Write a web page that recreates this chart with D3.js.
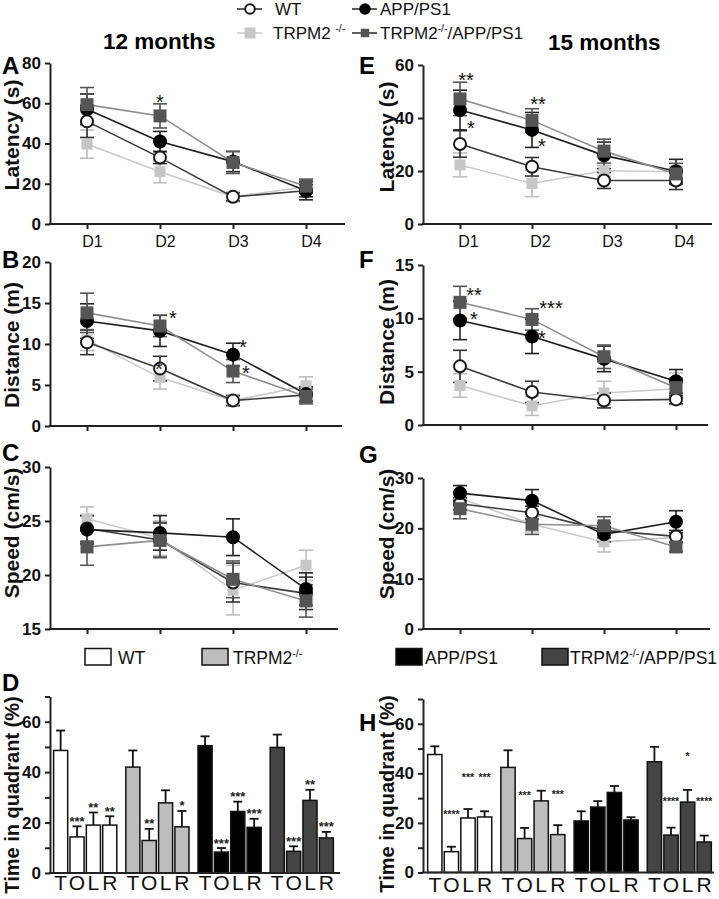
<!DOCTYPE html>
<html><head><meta charset="utf-8">
<script src="https://cdn.jsdelivr.net/npm/d3@7"></script>
<style>
body{margin:0;background:#fff}
svg{display:block}
text{font-family:"Liberation Sans",Arial,Helvetica,sans-serif}
</style>
</head><body>
<svg id="c" width="719" height="899"></svg>
<script>
// ---------------- DATA ----------------
const days = ["D1","D2","D3","D4"];
const genotypes = ["WT","TRPM2","APP","Double"];
const quadrants = ["T","O","L","R"];

// series order: WT, TRPM2-/-, APP/PS1, TRPM2-/-/APP/PS1
const latency12    = [[51,33,13.5,16.5],[39.7,26,13.5,18.5],[57,41,31,16.5],[59.3,53.7,30.6,18.8]];
const latency12Err = [[8,3,2,3],[7,5.5,2.5,3],[7.6,5,5,4.5],[8.5,6,5.5,3.5]];
const latency15    = [[30.2,21.6,16.4,16.4],[22.3,15.3,20.1,19.7],[43,35.5,25.9,19.9],[47.2,39.1,27.5,18.9]];
const latency15Err = [[5,3.5,3,3.4],[4.5,5,2,2],[7.5,6.6,5,4.5],[6.3,4.4,4.5,4]];
const distance12    = [[10.2,7.0,3.1,3.8],[10.5,5.9,3.1,4.9],[12.8,11.6,8.7,3.9],[13.8,12.2,6.7,3.6]];
const distance12Err = [[1.5,1.5,0.6,0.8],[1.3,1.4,0.7,1.1],[2.1,1.9,1.4,0.9],[2.4,1.3,1.4,0.9]];
const distance15    = [[5.5,3.1,2.3,2.4],[3.7,1.8,3.0,3.4],[9.8,8.3,6.2,4.1],[11.5,9.9,6.4,3.5]];
const distance15Err = [[1.5,1.0,0.7,0.4],[1.1,0.9,1.1,1.5],[1.8,1.6,1.2,1.1],[1.5,1.0,1.1,0.9]];
const speed12    = [[24.3,23.25,19.3,18.3],[25.2,23.4,18.6,20.9],[24.2,23.9,23.5,18.7],[22.6,23.2,19.6,17.6]];
const speed12Err = [[1.2,1.6,1.8,1.5],[1.1,1.6,2.3,1.4],[1.3,1.6,1.7,1.5],[1.7,1.6,1.7,1.5]];
const speed15    = [[24.9,23.1,19.6,18.4],[26,20.8,17.3,18.2],[27.0,25.5,18.8,21.3],[23.9,20.8,20.5,16.3]];
const speed15Err = [[1.2,1.3,1.5,1.2],[1.2,1.5,2.0,1.2],[1.5,2.2,1.5,2.2],[2.0,2.0,1.8,1.0]];

// significance marks on line panels (day, level in data units, text)
const latency12Stars  = [{day:"D2", level:63, text:"*"}];
const latency15Stars  = [{day:"D1", level:56.2, text:"**"},{day:"D1", level:38.1, text:"*"},{day:"D2", level:46.8, text:"**"},{day:"D2", level:31, text:"*"}];
const distance12Stars = [{day:"D2", level:13.7, text:"*"},{day:"D2", level:7.5, text:"*"},{day:"D3", level:10.2, text:"*"},{day:"D3", level:7.0, text:"*"}];
const distance15Stars = [{day:"D1", level:12.6, text:"**"},{day:"D1", level:10.4, text:"*"},{day:"D2", level:11.4, text:"***"},{day:"D2", level:8.6, text:"*"}];

// probe test: time in quadrant (%)
const quadrant12    = [[48.6,14.3,19.0,19.0],[42,12.9,27.8,18.3],[50.5,8.3,24.4,18.1],[49.8,8.6,28.8,13.9]];
const quadrant12Err = [[7.9,4.2,5.0,3.5],[6.6,4.6,5.0,6.3],[3.7,1.6,3.9,3.4],[5.1,2.0,4.2,2.4]];
const quadrant12Sig = [["","***","**","**"],["","**","","*"],["","***","***","***"],["","***","**","***"]];
const quadrant15    = [[47.6,8.4,22,22.4],[42.4,13.7,28.9,15.3],[20.8,26.4,32.3,21.2],[44.7,15.1,28.4,12.3]];
const quadrant15Err = [[3.3,2.0,3.6,2.3],[6.9,4.3,4.1,3.8],[3.9,2.4,2.6,1.1],[6.0,3.0,4.9,2.6]];
const quadrant15Sig = [["","****","***","***"],["","***","","***"],["","","",""],["","****","*","****"]];
const quadrant15SigLevel = [[null,24.5,39.5,39.5],[null,32.2,null,32.6],[null,null,null,null],[null,29.7,47.9,29.7]];

// ---------------- STYLE ----------------
const lineStyle = {
  WT:     {line:"#3c3c3c", shape:"circle", fill:"#fff",   stroke:"#1a1a1a", err:"#333", size:6},
  TRPM2:  {line:"#c9c9c9", shape:"square", fill:"#c6c6c6", stroke:"none",   err:"#bdbdbd", size:11},
  APP:    {line:"#1e1e1e", shape:"circle", fill:"#000",   stroke:"#000",    err:"#222", size:6},
  Double: {line:"#8e8e8e", shape:"square", fill:"#555",   stroke:"none",    err:"#555", size:13}
};
const barFill = {WT:"#ffffff", TRPM2:"#bdbdbd", APP:"#000000", Double:"#444444"};
const drawOrder = [1,0,2,3];

const svg = d3.select("#c");

function addMarker(g, st, cx, cy, scale){
  const s = scale || 1;
  if (st.shape === "circle") {
    g.append("circle").attr("cx",cx).attr("cy",cy).attr("r",st.size*s)
      .attr("fill",st.fill).attr("stroke",st.stroke).attr("stroke-width",2);
  } else {
    const w = st.size*s;
    g.append("rect").attr("x",cx-w/2).attr("y",cy-w/2).attr("width",w).attr("height",w)
      .attr("fill",st.fill).attr("stroke",st.stroke);
  }
}

function styleAxis(a, bold){
  a.selectAll("path,line").attr("stroke","#222").attr("stroke-width",2);
  a.selectAll("text").attr("fill","#111").attr("font-size",16)
    .attr("font-weight", bold ? "bold" : "normal").attr("font-family",'"Liberation Sans",Arial,sans-serif');
}

function yLabel(text, x, cy, fs){
  svg.append("text").attr("transform",`translate(${x},${cy}) rotate(-90)`)
    .attr("text-anchor","middle").attr("font-size",fs||21).attr("font-weight","bold").attr("fill","#111")
    .text(text);
}
function panelLetter(t, x, y){
  svg.append("text").attr("x",x).attr("y",y).attr("font-size",24).attr("font-weight","bold").attr("fill","#000").text(t);
}

function linePanel(cfg){
  const g = svg.append("g");
  const x = d3.scalePoint().domain(days).range(cfg.xr);
  const y = d3.scaleLinear().domain(cfg.dom).range(cfg.yr);
  const ya = g.append("g").attr("transform",`translate(${cfg.ax},0)`)
    .call(d3.axisLeft(y).tickValues(cfg.ticks).tickSize(5).tickSizeOuter(0).tickPadding(4).tickFormat(d3.format("d")));
  styleAxis(ya, true);
  ya.selectAll("text").attr("font-size",17);
  const xa = g.append("g").attr("transform",`translate(0,${cfg.yr[0]})`)
    .call(d3.axisBottom(x).tickSize(5).tickSizeOuter(0).tickPadding(7).tickFormat(cfg.labels ? (d=>d) : ""));
  xa.select(".domain").remove();
  styleAxis(xa, false);
  xa.selectAll("text").attr("dx", cfg.labelShift);
  g.append("line").attr("x1",cfg.ax-1).attr("x2",cfg.xEnd).attr("y1",cfg.yr[0]).attr("y2",cfg.yr[0])
    .attr("stroke","#222").attr("stroke-width",2);

  drawOrder.forEach(i=>{
    const st = lineStyle[genotypes[i]];
    const pts = cfg.values[i].map((v,j)=>[x(days[j]), y(v)]);
    g.append("path").attr("d", d3.line()(pts)).attr("fill","none").attr("stroke",st.line).attr("stroke-width",1.6);
  });
  drawOrder.forEach(i=>{
    const st = lineStyle[genotypes[i]];
    cfg.values[i].forEach((v,j)=>{
      const e = cfg.errs[i][j], cx = x(days[j]);
      const y1 = y(v+e), y2 = y(v-e);
      g.append("line").attr("x1",cx).attr("x2",cx).attr("y1",y1).attr("y2",y2).attr("stroke",st.err).attr("stroke-width",1.6);
      [y1,y2].forEach(yy=>g.append("line").attr("x1",cx-7).attr("x2",cx+7).attr("y1",yy).attr("y2",yy).attr("stroke",st.err).attr("stroke-width",1.6));
    });
  });
  drawOrder.forEach(i=>{
    const st = lineStyle[genotypes[i]];
    cfg.values[i].forEach((v,j)=> addMarker(g, st, x(days[j]), y(v)));
  });
  (cfg.stars||[]).forEach((s,k)=>{
    g.append("text").attr("x", x(s.day) + cfg.starShift[k]).attr("y", y(s.level) + 11.5)
      .attr("text-anchor","middle").attr("font-size",20).attr("fill","#111").text(s.text);
  });
}

function barPanel(cfg){
  const g = svg.append("g");
  const outer = d3.scaleBand().domain(genotypes).range(cfg.xr).paddingInner(0.125).paddingOuter(0.05);
  const inner = d3.scaleBand().domain(quadrants).range([0, outer.bandwidth()]).paddingInner(0.14);
  const y = d3.scaleLinear().domain([0,70]).range(cfg.yr);
  const ya = g.append("g").attr("transform",`translate(${cfg.ax},0)`)
    .call(d3.axisLeft(y).tickValues(d3.range(0,71,10)).tickSize(5).tickSizeOuter(0).tickPadding(4)
      .tickFormat(d=> d%20===0 ? d : ""));
  styleAxis(ya, true);
  ya.selectAll("text").attr("font-size",17);

  genotypes.forEach((gt,i)=>{
    quadrants.forEach((q,j)=>{
      const bx = outer(gt)+inner(q), bw = inner.bandwidth(), v = cfg.values[i][j], e = cfg.errs[i][j];
      const cx = bx + bw/2;
      g.append("line").attr("x1",cx).attr("x2",cx).attr("y1",y(v)).attr("y2",y(v+e)).attr("stroke","#111").attr("stroke-width",1.8);
      g.append("line").attr("x1",cx-4.5).attr("x2",cx+4.5).attr("y1",y(v+e)).attr("y2",y(v+e)).attr("stroke","#111").attr("stroke-width",1.8);
      g.append("rect").attr("x",bx).attr("y",y(v)).attr("width",bw).attr("height",y(0)-y(v))
        .attr("fill",barFill[gt]).attr("stroke","#111").attr("stroke-width",1.5);
      g.append("text").attr("x",cx).attr("y",cfg.labelY).attr("text-anchor","middle").attr("font-size",21)
        .attr("fill","#111").text(q);
      const s = cfg.sig[i][j];
      if (s) {
        const yy = cfg.sigLevel ? y(cfg.sigLevel[i][j]) + 6 : y(v+e) - 0.5;
        g.append("text").attr("x",cx).attr("y",yy).attr("text-anchor","middle")
          .attr("font-size",cfg.sigSize).attr("font-weight","bold").attr("fill","#222").text(s);
      }
    });
  });
  g.append("line").attr("x1",cfg.ax-1).attr("x2",cfg.xEnd).attr("y1",cfg.yr[0]).attr("y2",cfg.yr[0])
    .attr("stroke","#222").attr("stroke-width",2.2);
}

// ---------------- TITLES & LEGENDS ----------------
svg.append("text").attr("x",103).attr("y",49).attr("font-size",22.5).attr("font-weight","bold").text("12 months");
svg.append("text").attr("x",548).attr("y",50).attr("font-size",22.5).attr("font-weight","bold").text("15 months");

const topLegendPos = [[237,9,275,15],[237,33,273,39],[352,9,380,15],[352,33,380,39]];
const legendNames = [["WT",null,""],["TRPM2 ","-/-",""],["APP/PS1",null,""],["TRPM2","-/-","/APP/PS1"]];
genotypes.forEach((gt,i)=>{
  const [lx,ly,tx,ty] = topLegendPos[i];
  const st = lineStyle[gt];
  svg.append("line").attr("x1",lx).attr("x2",lx+25).attr("y1",ly).attr("y2",ly).attr("stroke",gt==="TRPM2" ? "#cfcfcf" : "#333").attr("stroke-width",1.6);
  addMarker(svg, st, lx+13, ly, st.shape==="circle" ? 0.8 : (gt==="Double" ? 0.65 : 1));
  const t = svg.append("text").attr("x",tx).attr("y",ty).attr("font-size",17).attr("fill","#111");
  t.append("tspan").text(legendNames[i][0]);
  if (legendNames[i][1]) t.append("tspan").attr("dy",-7).attr("font-size",10.5).text(legendNames[i][1]);
  if (legendNames[i][2]) t.append("tspan").attr("dy",7).text(legendNames[i][2]);
});

const barLegendPos = [[85,118],[202,233],[396,425],[542,570]];
const barLegendNames = [["WT",null,""],["TRPM2","-/-",""],["APP/PS1",null,""],["TRPM2","-/-","/APP/PS1"]];
genotypes.forEach((gt,i)=>{
  const [rx,tx] = barLegendPos[i];
  svg.append("rect").attr("x",rx).attr("y",648.5).attr("width",26).attr("height",16.5)
    .attr("fill",barFill[gt]).attr("stroke","#111").attr("stroke-width",1.5);
  const t = svg.append("text").attr("x",tx).attr("y",664).attr("font-size",17.5).attr("fill","#111");
  t.append("tspan").text(barLegendNames[i][0]);
  if (barLegendNames[i][1]) t.append("tspan").attr("dy",-7).attr("font-size",10.5).text(barLegendNames[i][1]);
  if (barLegendNames[i][2]) t.append("tspan").attr("dy",7).text(barLegendNames[i][2]);
});

// ---------------- PANELS ----------------
const L = {ax:50, xEnd:345, xr:[87,306]};
const R = {ax:423, xEnd:712, xr:[460,676]};

linePanel({...L, yr:[224,63], dom:[0,80], ticks:[0,20,40,60,80], values:latency12, errs:latency12Err, labels:true, labelShift:5,
  stars:latency12Stars, starShift:[0]});
linePanel({...R, yr:[224,65], dom:[0,60], ticks:[0,20,40,60], values:latency15, errs:latency15Err, labels:true, labelShift:8,
  stars:latency15Stars, starShift:[6,11,6,10]});
linePanel({...L, xEnd:342, yr:[426,262], dom:[0,20], ticks:[0,5,10,15,20], values:distance12, errs:distance12Err, labels:false,
  stars:distance12Stars, starShift:[13,-1,10,13]});
linePanel({...R, xEnd:708, yr:[425,265], dom:[0,15], ticks:[0,5,10,15], values:distance15, errs:distance15Err, labels:false,
  stars:distance15Stars, starShift:[14,14,19,10]});
linePanel({...L, xEnd:338, yr:[629,467], dom:[15,30], ticks:[15,20,25,30], values:speed12, errs:speed12Err, labels:false});
linePanel({...R, xEnd:710, yr:[629,478], dom:[0,30], ticks:[0,10,20,30], values:speed15, errs:speed15Err, labels:false});

barPanel({ax:50, xEnd:340, xr:[50,337], yr:[873,696.5], values:quadrant12, errs:quadrant12Err, sig:quadrant12Sig, sigSize:13, labelY:890});
barPanel({ax:423, xEnd:714, xr:[424,715], yr:[872.5,699], values:quadrant15, errs:quadrant15Err, sig:quadrant15Sig,
  sigLevel:quadrant15SigLevel, sigSize:10.5, labelY:892});

yLabel("Latency (s)", 19, 135);
yLabel("Latency (s)", 394, 137);
yLabel("Distance (m)", 19, 345);
yLabel("Distance (m)", 394, 342);
yLabel("Speed (cm/s)", 19, 533);
yLabel("Speed (cm/s)", 394, 534);
yLabel("Time in quadrant (%)", 19, 795, 20);
yLabel("Time in quadrant (%)", 394, 794, 20);

panelLetter("A",2,74); panelLetter("E",359,74);
panelLetter("B",2,268); panelLetter("F",359,268);
panelLetter("C",2,461); panelLetter("G",359,463);
panelLetter("D",2,691); panelLetter("H",359,731);
</script>
</body></html>
